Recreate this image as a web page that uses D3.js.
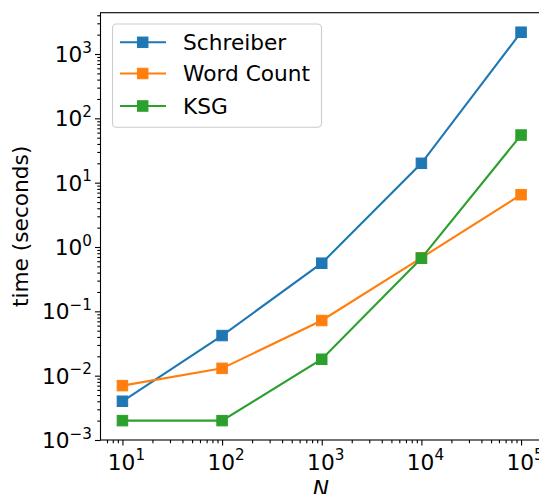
<!DOCTYPE html>
<html>
<head>
<meta charset="utf-8">
<script src="https://cdn.jsdelivr.net/npm/d3@7"></script>
<style>
  html, body { margin: 0; padding: 0; background: #fff; }
  svg { display: block; font-family: "DejaVu Sans", sans-serif; }
</style>
</head>
<body>
<svg id="chart" width="539" height="494"></svg>
<script>
// Run time of the three estimators against sample size N (log-log)
const sizes = [10, 100, 1000, 10000, 100000];
const schreiber = [0.004, 0.042, 0.56, 20, 2180];
const wordCount = [0.007, 0.013, 0.072, 0.68, 6.5];
const ksg = [0.002, 0.002, 0.018, 0.67, 55];
const seriesNames = ["Schreiber", "Word Count", "KSG"];
const seriesColors = ["#1f77b4", "#ff7f0e", "#2ca02c"];
const xTickExps = [1, 2, 3, 4, 5];
const yTickExps = [-3, -2, -1, 0, 1, 2, 3];

const series = [schreiber, wordCount, ksg].map((vals, i) => ({
  name: seriesNames[i], color: seriesColors[i],
  points: sizes.map((n, j) => [n, vals[j]])
}));

const svg = d3.select("#chart");
const plot = { left: 100.5, right: 541, top: 12.7, bottom: 440 };

const x = d3.scaleLog().domain([Math.pow(10, 0.78), Math.pow(10, 5.2)]).range([plot.left, plot.right]);
const y = d3.scaleLog().domain([1e-3, Math.pow(10, 3.642)]).range([plot.bottom, plot.top]);

const fontSize = 21.7;

// minor ticks (2..9 of each decade) inside the visible range
function minorTicks(scale) {
  const [a, b] = scale.domain();
  const out = [];
  for (let e = Math.floor(Math.log10(a)); e <= Math.ceil(Math.log10(b)); e++) {
    for (let m = 2; m <= 9; m++) {
      const v = m * Math.pow(10, e);
      if (v >= a && v <= b) out.push(v);
    }
  }
  return out;
}

// axis lines
const axX = d3.axisBottom(x).tickValues(xTickExps.map(e => Math.pow(10, e))).tickFormat("").tickSizeOuter(0).tickSize(5.5);
const axXm = d3.axisBottom(x).tickValues(minorTicks(x)).tickFormat("").tickSizeOuter(0).tickSize(3.2);
const axY = d3.axisLeft(y).tickValues(yTickExps.map(e => Math.pow(10, e))).tickFormat("").tickSizeOuter(0).tickSize(5.5);
const axYm = d3.axisLeft(y).tickValues(minorTicks(y)).tickFormat("").tickSizeOuter(0).tickSize(3.2);

[[axXm, "x"], [axX, "x"], [axYm, "y"], [axY, "y"]].forEach(([ax, k]) => {
  const g = svg.append("g")
    .attr("transform", k === "x" ? `translate(0,${plot.bottom})` : `translate(${plot.left},0)`)
    .call(ax);
  g.select(".domain").remove();
  g.selectAll("line").attr("stroke", "#000").attr("stroke-width", 1.1);
});

// data lines & markers, clipped to the axes box
svg.append("clipPath").attr("id", "clip").append("rect")
  .attr("x", plot.left).attr("y", plot.top)
  .attr("width", plot.right - plot.left).attr("height", plot.bottom - plot.top);

const line = d3.line().x(d => x(d[0])).y(d => y(d[1]));
const dataG = svg.append("g").attr("clip-path", "url(#clip)");
const ms = 10.5;
series.forEach(s => {
  dataG.append("path").datum(s.points)
    .attr("d", line).attr("fill", "none")
    .attr("stroke", s.color).attr("stroke-width", 2.1);
  dataG.selectAll(null).data(s.points).enter().append("rect")
    .attr("x", d => x(d[0]) - ms / 2).attr("y", d => y(d[1]) - ms / 2)
    .attr("width", ms).attr("height", ms)
    .attr("fill", s.color).attr("stroke", s.color).attr("stroke-width", 1);
});

// spines
svg.append("rect")
  .attr("x", plot.left).attr("y", plot.top)
  .attr("width", plot.right - plot.left).attr("height", plot.bottom - plot.top)
  .attr("fill", "none").attr("stroke", "#000").attr("stroke-width", 1.1);

// tick labels in 10^e form
function powLabel(g, e, anchor) {
  const t = g.append("text").attr("font-size", fontSize).attr("fill", "#000").attr("text-anchor", anchor);
  t.append("tspan").text("10");
  t.append("tspan").attr("font-size", fontSize * 0.7).attr("dy", -9.5)
    .text(e < 0 ? "\u2212" + Math.abs(e) : String(e));
  return t;
}
xTickExps.forEach(e => {
  const g = svg.append("g").attr("transform", `translate(${x(Math.pow(10, e)) + 4},${plot.bottom + 29.5})`);
  powLabel(g, e, "middle");
});
yTickExps.forEach(e => {
  const g = svg.append("g").attr("transform", `translate(${plot.left - 8.5},${y(Math.pow(10, e)) + 8})`);
  powLabel(g, e, "end");
});

// axis titles
svg.append("text")
  .attr("x", (plot.left + plot.right) / 2).attr("y", 496)
  .attr("text-anchor", "middle").attr("font-size", fontSize)
  .attr("font-style", "italic").text("N");
svg.append("text")
  .attr("transform", `translate(28,${(plot.top + plot.bottom) / 2}) rotate(-90)`)
  .attr("text-anchor", "middle").attr("font-size", fontSize)
  .text("time (seconds)");

// legend
const lg = svg.append("g");
lg.append("rect")
  .attr("x", 112.5).attr("y", 24).attr("width", 209).attr("height", 103.3)
  .attr("rx", 4).attr("fill", "#fff").attr("fill-opacity", 0.8)
  .attr("stroke", "#ccc").attr("stroke-width", 1.1);
const rowY = [42.3, 73.5, 106];
series.forEach((s, i) => {
  const ry = rowY[i];
  lg.append("line").attr("x1", 120).attr("x2", 166).attr("y1", ry).attr("y2", ry)
    .attr("stroke", s.color).attr("stroke-width", 2.1);
  lg.append("rect").attr("x", 142.7 - ms / 2).attr("y", ry - ms / 2)
    .attr("width", ms).attr("height", ms).attr("fill", s.color)
    .attr("stroke", s.color).attr("stroke-width", 1);
  lg.append("text").attr("x", 183).attr("y", ry + 7.8)
    .attr("font-size", fontSize).text(s.name);
});
</script>
</body>
</html>
